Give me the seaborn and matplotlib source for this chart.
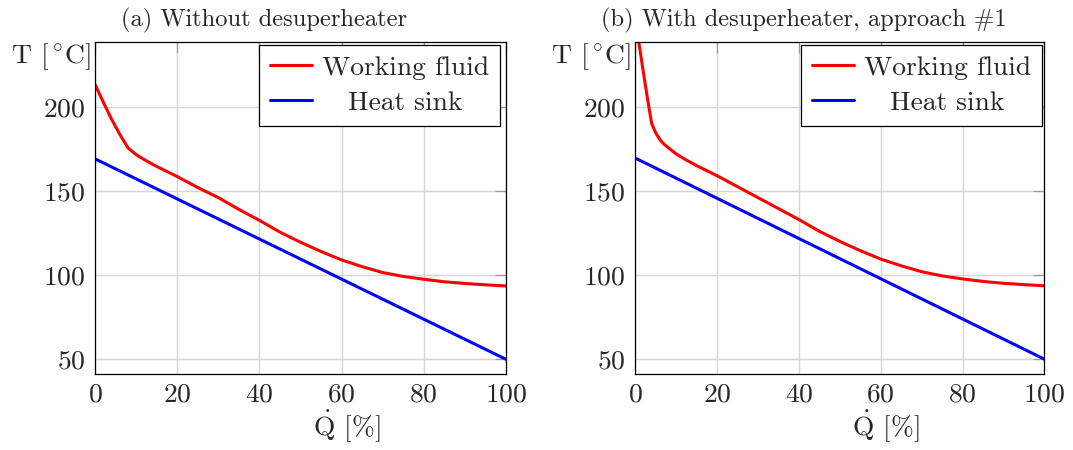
import matplotlib
matplotlib.use("Agg")
import matplotlib.pyplot as plt
import seaborn as sns
import pandas as pd

# ---------------- data ----------------
Q_wf_a = [0, 2, 4, 6, 8, 10, 12, 15, 20, 25, 30, 35, 40, 45, 50, 55, 60, 65, 70, 75, 80, 85, 90, 95, 100]
T_wf_a = [213, 202.5, 192.5, 183.5, 175.5, 171.5, 168.5, 164.5, 158.5, 152, 146, 139, 132.5, 125.5,
          119.5, 114, 109, 105, 101.5, 99.2, 97.5, 96, 95, 94.2, 93.5]

Q_wf_b = [0, 1, 2, 3, 4, 5, 6, 7, 8, 10, 12, 15, 20, 25, 30, 35, 40, 45, 50, 55, 60, 65, 70, 75,
          80, 85, 90, 95, 100]
T_wf_b = [251, 236, 220, 204.5, 190, 184.5, 180.5, 177.8, 175.8, 172, 169, 165, 159, 152.5, 146,
          139.5, 133, 126, 120, 114.5, 109.5, 105.5, 102, 99.5, 97.7, 96.2, 95.1, 94.3, 93.6]

Q_hs = [0, 100]
T_hs_a = [169, 50]
T_hs_b = [169.5, 50]

series_names = ["Working fluid", "Heat sink"]
titles = ["(a) Without desuperheater", "(b) With desuperheater, approach #1"]
x_ticks = [0, 20, 40, 60, 80, 100]
y_ticks = [50, 100, 150, 200]

# ---------------- style ----------------
sns.set_theme(style="white")
plt.rcParams["font.family"] = ["cmr10", "DejaVu Serif"]
plt.rcParams["mathtext.fontset"] = "cm"
plt.rcParams["axes.formatter.use_mathtext"] = True
plt.rcParams["axes.unicode_minus"] = False

colors = {"Working fluid": "#ff0000", "Heat sink": "#0000ff"}

fig = plt.figure(figsize=(10.73, 4.5), dpi=100)
ax_a = fig.add_axes([0.0888, 0.1682, 0.3825, 0.7384])
ax_b = fig.add_axes([0.5921, 0.1682, 0.3812, 0.7384])

panels = [
    (ax_a, Q_wf_a, T_wf_a, T_hs_a, titles[0], 0.986),
    (ax_b, Q_wf_b, T_wf_b, T_hs_b, titles[1], 0.994),
]

for ax, qw, tw, ths, title, leg_x in panels:
    df = pd.concat([
        pd.DataFrame({"Q": qw, "T": tw, "series": series_names[0]}),
        pd.DataFrame({"Q": Q_hs, "T": ths, "series": series_names[1]}),
    ], ignore_index=True)
    sns.lineplot(data=df, x="Q", y="T", hue="series", palette=colors, ax=ax,
                 estimator=None, sort=False, linewidth=2.2, legend=False)

    ax.set_xlim(0, 100)
    ax.set_ylim(41, 238.5)
    ax.set_xticks(x_ticks)
    ax.set_yticks(y_ticks)
    ax.grid(True, color="#d6d6d6", linewidth=1.0)
    ax.set_axisbelow(True)
    ax.tick_params(direction="in", top=True, right=True, length=8, width=0.9,
                   color="#9a9a9a", labelsize=19.8)
    ax.tick_params(axis="x", pad=6)
    ax.tick_params(axis="y", pad=7)
    for sp in ax.spines.values():
        sp.set_visible(True)
        sp.set_color("black")
        sp.set_linewidth(0.9)
    ax.set_xlabel("")
    ax.set_ylabel("")

    ax.text(0.613, -0.157, r"$\dot{\mathrm{Q}}$ [%]", transform=ax.transAxes,
            ha="center", va="center", fontsize=19.8)
    ax.text(-0.011, 0.955, r"T [$\,^{\circ}$C]", transform=ax.transAxes,
            ha="right", va="center", fontsize=19.8)
    ax.text(0.411, 1.048, title, transform=ax.transAxes,
            ha="center", va="baseline", fontsize=17.6)

    handles = [plt.Line2D([], [], color=colors[n], linewidth=2.2) for n in series_names]
    leg = ax.legend(handles, series_names, loc="upper right",
                    bbox_to_anchor=(leg_x, 0.9925), borderaxespad=0.0,
                    fontsize=19.8, frameon=True, fancybox=False, framealpha=1.0,
                    edgecolor="black", handlelength=1.55, handletextpad=0.35,
                    borderpad=0.4, labelspacing=0.4)
    leg.get_frame().set_linewidth(0.9)
    ax._my_leg = leg

# center legend texts (pgfplots style)
fig.canvas.draw()
r = fig.canvas.get_renderer()
for ax in (ax_a, ax_b):
    leg = ax._my_leg
    texts = leg.get_texts()
    widths = [t.get_window_extent(r).width for t in texts]
    wmax = max(widths)
    rows = leg._legend_handle_box.get_children()[0].get_children()
    for row, wi in zip(rows, widths):
        row.sep += (wmax - wi) / 2.0 / (fig.dpi / 72.0)

fig.savefig("out.png", dpi=100)
